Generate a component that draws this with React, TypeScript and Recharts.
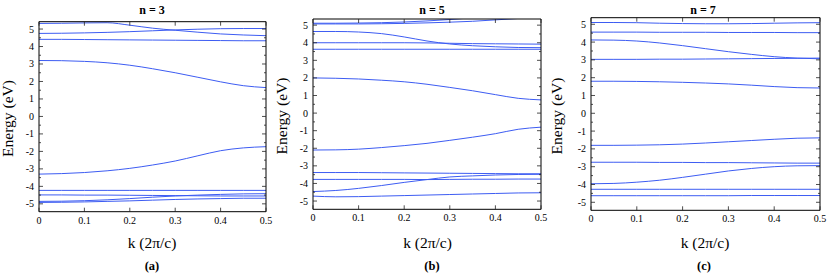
import React from 'react';
import { LineChart, Line, XAxis, YAxis } from 'recharts';

// wave vector k (2π/c), shared by every band
const K = [0, 0.05, 0.1, 0.15, 0.2, 0.25, 0.3, 0.35, 0.4, 0.45, 0.5];
const K_TICKS = [0, 0.1, 0.2, 0.3, 0.4, 0.5];
const E_TICKS = [-5, -4.5, -4, -3.5, -3, -2.5, -2, -1.5, -1, -0.5, 0, 0.5, 1, 1.5, 2, 2.5, 3, 3.5, 4, 4.5, 5];

// n = 3 bands (eV)
const n3Band1 = [5.32, 5.33, 5.35, 5.36, 5.22, 5.05, 4.93, 4.82, 4.72, 4.66, 4.62];
const n3Band2 = [4.75, 4.76, 4.78, 4.81, 4.85, 4.9, 4.95, 4.99, 5.02, 5.03, 5.03];
const n3Band3 = [4.41, 4.41, 4.4, 4.39, 4.38, 4.37, 4.36, 4.35, 4.34, 4.33, 4.33];
const n3Band4 = [3.2, 3.19, 3.15, 3.07, 2.93, 2.73, 2.5, 2.24, 1.98, 1.76, 1.65];
const n3Band5 = [-3.3, -3.27, -3.21, -3.11, -2.97, -2.78, -2.55, -2.25, -1.96, -1.8, -1.73];
const n3Band6 = [-4.23, -4.23, -4.23, -4.23, -4.23, -4.23, -4.23, -4.23, -4.23, -4.23, -4.23];
const n3Band7 = [-4.49, -4.49, -4.5, -4.5, -4.51, -4.52, -4.53, -4.54, -4.55, -4.55, -4.55];
const n3Band8 = [-4.86, -4.85, -4.82, -4.77, -4.7, -4.62, -4.55, -4.5, -4.46, -4.43, -4.42];
const n3Band9 = [-4.92, -4.91, -4.89, -4.86, -4.83, -4.79, -4.75, -4.72, -4.7, -4.68, -4.68];

// n = 5 bands (eV)
const n5Band1 = [5.11, 5.11, 5.12, 5.14, 5.18, 5.24, 5.32, 5.42, 5.5, 5.55, 5.57];
const n5Band2 = [5.07, 5.07, 5.07, 5.08, 5.1, 5.13, 5.17, 5.22, 5.3, 5.38, 5.45];
const n5Band3 = [4.64, 4.64, 4.61, 4.52, 4.33, 4.1, 3.93, 3.83, 3.77, 3.73, 3.72];
const n5Band4 = [4.0, 4.0, 4.0, 4.0, 4.0, 3.99, 3.97, 3.95, 3.94, 3.93, 3.92];
const n5Band5 = [3.63, 3.63, 3.63, 3.63, 3.63, 3.63, 3.63, 3.63, 3.63, 3.63, 3.63];
const n5Band6 = [2.0, 1.98, 1.94, 1.87, 1.78, 1.64, 1.46, 1.27, 1.05, 0.84, 0.75];
const n5Band7 = [-2.1, -2.09, -2.05, -1.96, -1.85, -1.72, -1.55, -1.37, -1.17, -0.92, -0.8];
const n5Band8 = [-3.38, -3.38, -3.38, -3.39, -3.4, -3.41, -3.42, -3.43, -3.44, -3.45, -3.45];
const n5Band9 = [-3.77, -3.77, -3.77, -3.77, -3.77, -3.78, -3.77, -3.76, -3.76, -3.75, -3.75];
const n5Band10 = [-4.46, -4.4, -4.28, -4.12, -3.94, -3.78, -3.63, -3.57, -3.52, -3.49, -3.48];
const n5Band11 = [-4.72, -4.76, -4.75, -4.72, -4.69, -4.66, -4.63, -4.6, -4.57, -4.54, -4.53];

// n = 7 bands (eV)
const n7Band1 = [5.1, 5.1, 5.09, 5.06, 5.04, 5.03, 5.03, 5.04, 5.06, 5.08, 5.09];
const n7Band2 = [4.56, 4.56, 4.56, 4.55, 4.55, 4.55, 4.54, 4.54, 4.54, 4.53, 4.53];
const n7Band3 = [4.12, 4.11, 4.06, 3.95, 3.8, 3.63, 3.46, 3.31, 3.18, 3.1, 3.06];
const n7Band4 = [3.03, 3.03, 3.03, 3.04, 3.04, 3.05, 3.06, 3.07, 3.08, 3.09, 3.1];
const n7Band5 = [1.8, 1.8, 1.79, 1.77, 1.74, 1.7, 1.65, 1.58, 1.5, 1.44, 1.42];
const n7Band6 = [-1.8, -1.8, -1.79, -1.77, -1.73, -1.67, -1.6, -1.53, -1.46, -1.4, -1.38];
const n7Band7 = [-2.75, -2.75, -2.75, -2.76, -2.76, -2.77, -2.77, -2.78, -2.79, -2.8, -2.8];
const n7Band8 = [-3.96, -3.94, -3.87, -3.76, -3.6, -3.42, -3.24, -3.1, -3.0, -2.95, -2.94];
const n7Band9 = [-4.27, -4.27, -4.27, -4.27, -4.27, -4.27, -4.27, -4.27, -4.27, -4.27, -4.27];
const n7Band10 = [-4.63, -4.63, -4.63, -4.63, -4.63, -4.63, -4.63, -4.62, -4.62, -4.62, -4.62];

const SERIF = "'Liberation Serif', 'Times New Roman', Times, 'DejaVu Serif', serif";
const BLUE = '#3d5cf2';
const FRAME = '#000';

const W = 277;
const H = 279;
const YW = 30; // left axis width
const RW = 2; // right axis width
const TH = 2; // top axis height
const BH = 20; // bottom axis height

const toRows = (bands: number[][]) =>
  K.map((k, i) => {
    const row: any = { k };
    bands.forEach((b, j) => {
      row['b' + j] = b[i];
    });
    return row;
  });

const isMajor = (v: number) => Math.abs(v - Math.round(v)) < 1e-9;

const LeftTick = ({ x, y, payload }: any) => {
  const major = isMajor(payload.value);
  return (
    <g>
      <line x1={x} x2={x + (major ? 4 : 2)} y1={y} y2={y} stroke="#222" strokeWidth={0.8} />
      {major && (
        <text x={x - 5} y={y + 3.5} textAnchor="end" fill="#000" style={{ fontFamily: SERIF, fontSize: 10 }}>
          {payload.value}
        </text>
      )}
    </g>
  );
};

const RightTick = ({ x, y, payload }: any) => {
  const major = isMajor(payload.value);
  return <line x1={x - (major ? 4 : 2)} x2={x} y1={y} y2={y} stroke="#222" strokeWidth={0.8} />;
};

const BottomTick = ({ x, y, payload }: any) => (
  <g>
    <line x1={x} x2={x} y1={y} y2={y - 4} stroke="#222" strokeWidth={0.8} />
    <text x={x} y={y + 11.8} textAnchor="middle" fill="#000" style={{ fontFamily: SERIF, fontSize: 10 }}>
      {payload.value}
    </text>
  </g>
);

const TopTick = ({ x, y }: any) => (
  <line x1={x} x2={x} y1={y} y2={y + 4} stroke="#222" strokeWidth={0.8} />
);

interface PanelConfig {
  x0: number;
  left: number;
  right: number;
  top: number;
  bottom: number;
  domain: [number, number];
  bands: number[][];
}

function BandPanel({ cfg }: { cfg: PanelConfig }) {
  const margin = {
    left: cfg.left - cfg.x0 - YW,
    right: cfg.x0 + W - cfg.right - RW,
    top: cfg.top - TH,
    bottom: H - cfg.bottom - BH,
  };
  const data = toRows(cfg.bands);
  const common = { type: 'number' as const, allowDataOverflow: true, interval: 0 as const, tickLine: false, tickSize: 0, tickMargin: 0, axisLine: { stroke: FRAME, strokeWidth: 1 } };
  return (
    <div style={{ position: 'absolute', left: cfg.x0, top: 0 }}>
      <LineChart width={W} height={H} data={data} margin={margin}>
        <XAxis xAxisId="b" dataKey="k" domain={[0, 0.5]} ticks={K_TICKS} height={BH} tick={<BottomTick />} {...common} />
        <XAxis xAxisId="t" dataKey="k" orientation="top" domain={[0, 0.5]} ticks={K_TICKS} height={TH} tick={<TopTick />} {...common} />
        <YAxis yAxisId="l" domain={cfg.domain} ticks={E_TICKS} width={YW} tick={<LeftTick />} {...common} />
        <YAxis yAxisId="r" orientation="right" domain={cfg.domain} ticks={E_TICKS} width={RW} tick={<RightTick />} {...common} />
        {cfg.bands.map((_, j) => (
          <Line
            key={j}
            xAxisId="b"
            yAxisId="l"
            type="monotone"
            dataKey={'b' + j}
            stroke={BLUE}
            strokeWidth={1}
            dot={false}
            activeDot={false}
            isAnimationActive={false}
          />
        ))}
      </LineChart>
    </div>
  );
}

const PANELS: PanelConfig[] = [
  { x0: 0, left: 39, right: 266, top: 21.7, bottom: 211.7, domain: [-5.45, 5.42], bands: [n3Band1, n3Band2, n3Band3, n3Band4, n3Band5, n3Band6, n3Band7, n3Band8, n3Band9] },
  { x0: 277, left: 313, right: 541, top: 19, bottom: 209.3, domain: [-5.47, 5.35], bands: [n5Band1, n5Band2, n5Band3, n5Band4, n5Band5, n5Band6, n5Band7, n5Band8, n5Band9, n5Band10, n5Band11] },
  { x0: 554, left: 591, right: 820, top: 17.7, bottom: 210.3, domain: [-5.45, 5.37], bands: [n7Band1, n7Band2, n7Band3, n7Band4, n7Band5, n7Band6, n7Band7, n7Band8, n7Band9, n7Band10] },
];

const TITLES = ['n = 3', 'n = 5', 'n = 7'];
const TAGS = ['(a)', '(b)', '(c)'];
const TITLE_X = [152, 432, 703];
const XLABEL_X = [152, 427.5, 705];
const TAG_X = [152, 432, 704];
const YLABEL_X = [13, 287, 562];
const YLABEL_Y = [118.5, 116, 116];

export default function App() {
  return (
    <div style={{ position: 'absolute', left: 0, top: 0, width: 831, height: 279, background: '#fff', overflow: 'hidden' }}>
      {PANELS.map((p, i) => (
        <BandPanel key={i} cfg={p} />
      ))}
      <svg width={831} height={279} style={{ position: 'absolute', left: 0, top: 0, pointerEvents: 'none' }}>
        {PANELS.map((_, i) => (
          <g key={i} fill="#000" style={{ fontFamily: SERIF }}>
            <text x={TITLE_X[i]} y={13.5} textAnchor="middle" style={{ fontSize: 12, fontWeight: 'bold' }}>
              {TITLES[i]}
            </text>
            <text x={XLABEL_X[i]} y={248} textAnchor="middle" style={{ fontSize: 15.5 }}>
              k (2π/c)
            </text>
            <text x={TAG_X[i]} y={270} textAnchor="middle" style={{ fontSize: 12.5, fontWeight: 'bold' }}>
              {TAGS[i]}
            </text>
            <text
              x={YLABEL_X[i]}
              y={YLABEL_Y[i]}
              textAnchor="middle"
              style={{ fontSize: 15.5 }}
              transform={`rotate(-90 ${YLABEL_X[i]} ${YLABEL_Y[i]})`}
            >
              Energy (eV)
            </text>
          </g>
        ))}
      </svg>
    </div>
  );
}
